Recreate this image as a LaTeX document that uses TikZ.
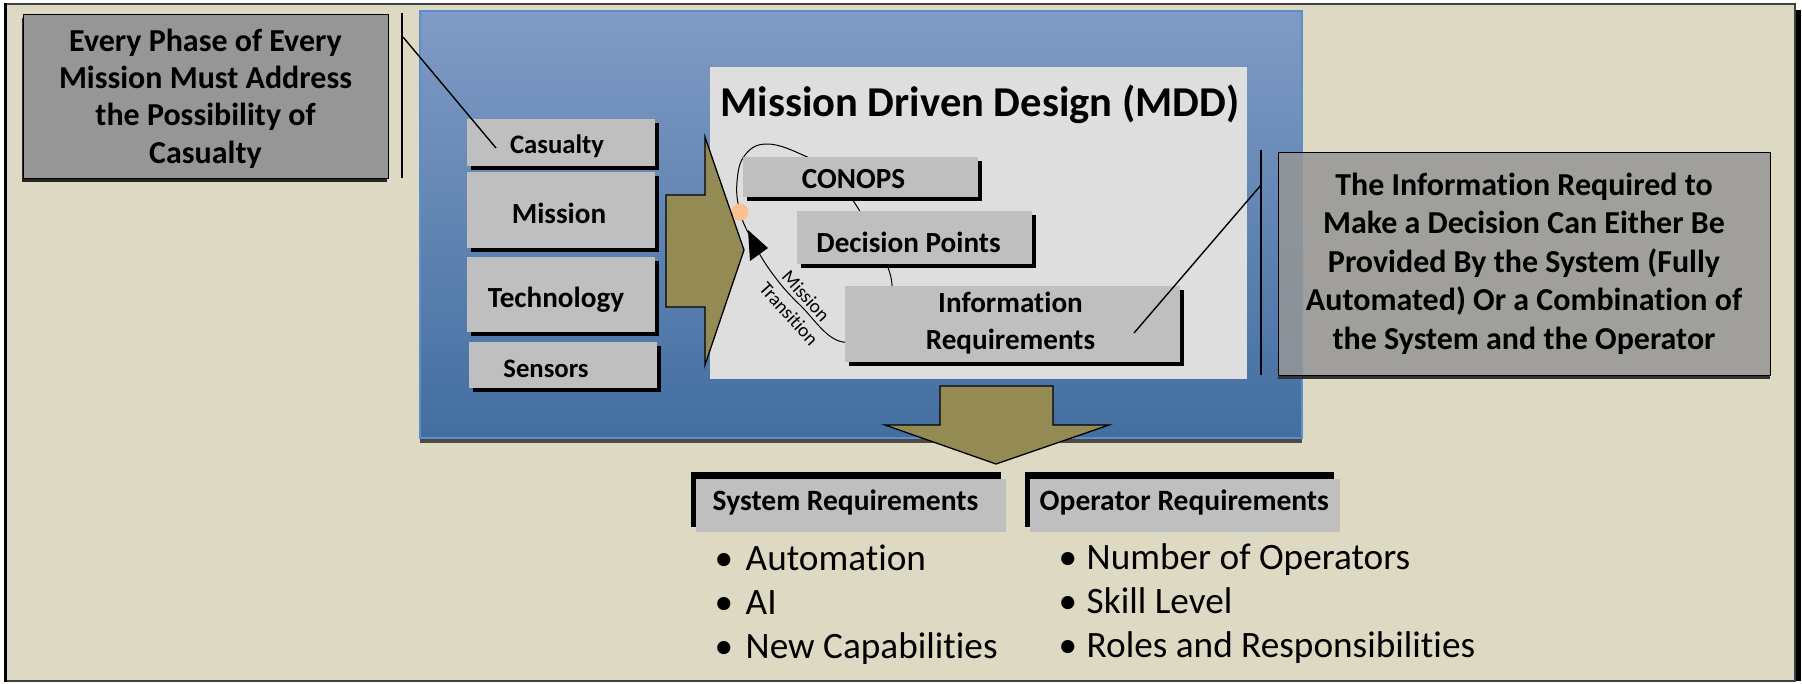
\documentclass[tikz,border=0pt]{standalone}
\usepackage{fontspec}
\setmainfont{Carlito}[Ligatures={NoCommon}]
\usetikzlibrary{shadows}
\definecolor{bg}{RGB}{221,217,195}
\definecolor{bluetop}{RGB}{128,155,197}
\definecolor{bluebot}{RGB}{66,110,160}
\definecolor{blueedge}{RGB}{95,140,205}
\definecolor{panel}{RGB}{222,222,222}
\definecolor{boxgray}{RGB}{191,191,191}
\definecolor{callgray}{RGB}{150,150,150}
\definecolor{olive}{RGB}{148,138,84}
\definecolor{dotc}{RGB}{250,192,144}
\definecolor{bshadow}{RGB}{77,75,64}
\begin{document}
\begin{tikzpicture}[x=0.1mm,y=-0.1mm,line join=miter,
  lbox/.style={fill=boxgray, inner sep=0pt,
    drop shadow={shadow xshift=0.4mm, shadow yshift=-0.4mm, fill=black, opacity=1}},
  ltext/.style={inner sep=0pt, font=\fontsize{8.3}{10.3}\selectfont\bfseries, align=center},
  stext/.style={inner sep=0pt, font=\fontsize{7.6}{9}\selectfont\bfseries},
  callout/.style={fill=callgray, draw=black, line width=0.1mm, align=center, inner sep=0pt,
    font=\fontsize{9.1}{10.6}\selectfont\bfseries},
  thinline/.style={line width=0.14mm, black},
  olivearrow/.style={fill=olive, draw=black, line width=0.13mm},
  hdrbox/.style={fill=boxgray, inner sep=0pt},
  hdrtext/.style={font=\fontsize{8.4}{10}\selectfont\bfseries, anchor=west, inner sep=0pt},
  bullettext/.style={font=\fontsize{10.6}{12}\selectfont, anchor=base west, inner sep=0pt},
  bulletdot/.style={font=\fontsize{10.6}{12}\selectfont, anchor=base, inner sep=0pt},
  mtlabel/.style={rotate=-48, font=\fontsize{5.5}{6.4}\selectfont, inner sep=0pt}
]
\useasboundingbox (0,0) rectangle (1802,683);
% outer frame
\fill[black] (1790,10) rectangle (1801,681);
\node[fill=bg, draw=black!75, line width=0.12mm, inner sep=0pt, minimum width=178.9mm, minimum height=67.7mm] (frame) at (900.5,342.5) {};
\draw[black, line width=0.22mm] (frame.north west) -- (frame.south west);

% left callout
\node[callout, minimum width=36.5mm, minimum height=16.4mm,
  drop shadow={shadow xshift=-0.1mm, shadow yshift=-0.35mm, fill=black!85, opacity=1}]
  (lc) at (205.5,96) {};
\node[callout, fill=none, draw=none] (lctxt) at ([shift={(0,2.5)}]lc.center) {Every Phase of Every\\Mission Must Address\\the Possibility of\\Casualty};
\coordinate (lvt) at (402,13);
\coordinate (lvb) at (402,178);
\draw[thinline] (lvt) -- (lvb);

% blue box
\fill[bshadow] (420,16) rectangle (1302,443);
\node[top color=bluetop, bottom color=bluebot, draw=blueedge, line width=0.15mm, inner sep=0pt,
  minimum width=88.2mm, minimum height=42.7mm] (blue) at (861,224.5) {};

% MDD panel
\node[fill=panel, inner sep=0pt, minimum width=53.7mm, minimum height=31.2mm] (mdd) at (978.5,223) {};
\node[font=\fontsize{12.1}{14}\selectfont\bfseries, inner sep=0pt] (title) at (980,104) {Mission Driven Design (MDD)};

% transition loop (partly hidden by the boxes)
\draw[line width=0.1mm] plot[smooth cycle, tension=0.7] coordinates
  {(740,212) (752,240) (772,273) (800,305) (843,342) (885,318) (892,285) (880,250)
   (856,205) (830,172) (805,156) (768,144) (745,155) (737,182)};

% MDD boxes
\node[lbox, minimum width=23.5mm, minimum height=4.0mm] (conops) at (860.5,177) {};
\node[ltext] (conopstxt) at ([shift={(-7,2)}]conops.center) {CONOPS};
\node[lbox, minimum width=23.5mm, minimum height=5.3mm] (dec) at (914.5,237.5) {};
\node[ltext] (dectxt) at ([shift={(-6,5)}]dec.center) {Decision Points};
\node[lbox, minimum width=33.5mm, minimum height=7.6mm] (info) at (1012.5,324) {};
\node[ltext] (infotxt) at ([shift={(-2,-1)}]info.center) {Information\\Requirements};

% arrowhead, dot, label
\fill[black] (748,230) -- (750,261) -- (768,248) -- cycle;
\node[circle, fill=dotc, minimum size=1.7mm, inner sep=0pt] (dot) at (740,212) {};
\node[mtlabel] (mt1) at (806,296) {Mission};
\node[mtlabel] (mt2) at (789,314) {Transition};

% left stacked boxes
\node[lbox, minimum width=18.8mm, minimum height=4.7mm] (cas) at (561,142.5) {};
\node[stext] (castxt) at ([shift={(-4,3.5)}]cas.center) {Casualty};
\node[lbox, minimum width=18.8mm, minimum height=7.6mm] (mis) at (561,210) {};
\node[ltext] (mistxt) at ([shift={(-2,3.5)}]mis.center) {Mission};
\node[lbox, minimum width=18.8mm, minimum height=7.5mm] (tech) at (561,294.5) {};
\node[ltext] (techtxt) at ([shift={(-5,5)}]tech.center) {Technology};
\node[lbox, minimum width=18.8mm, minimum height=4.6mm] (sen) at (563,365) {};
\node[stext] (sentxt) at ([shift={(-17,3.5)}]sen.center) {Sensors};

% casualty callout connector
\coordinate (lcj) at (403,37);
\coordinate (casend) at (496,148);
\draw[thinline] (lcj) -- (casend);

% right olive arrow
\draw[olivearrow] (666,195) -- (705,195) -- (705,137) -- (744,250) -- (705,365) -- (705,307) -- (666,307) -- cycle;

% right callout
\coordinate (rvt) at (1261,150);
\coordinate (rvb) at (1261,375);
\draw[thinline] (rvt) -- (rvb);
\coordinate (infoend) at (1134,333);
\coordinate (rvj) at (1261,185);
\draw[thinline] (infoend) -- (rvj);
\fill[black!80] (1278,375) rectangle (1770,379);
\node[callout, fill opacity=0.85, text opacity=1, minimum width=49.2mm, minimum height=22.3mm,
  font=\fontsize{9.1}{10.95}\selectfont\bfseries]
  (rc) at (1524,263.5) {The Information Required to\\Make a Decision Can Either Be\\Provided By the System (Fully\\Automated) Or a Combination of\\the System and the Operator};

% down olive arrow
\draw[olivearrow] (940,386) -- (1053,386) -- (1053,425) -- (1109,425) -- (996,464) -- (885,425) -- (940,425) -- cycle;

% requirement headers
\fill[black] (691,472) rectangle (1001,527);
\node[hdrbox, minimum width=31mm, minimum height=5.3mm] (sysbox) at (851,505.5) {};
\node[hdrtext] (systxt) at (712,502) {System Requirements};
\fill[black] (1025,472) rectangle (1334,527);
\node[hdrbox, minimum width=31mm, minimum height=5.3mm] (opbox) at (1185,505.5) {};
\node[hdrtext] (optxt) at (1039,502) {Operator Requirements};

% bullets
\node[bulletdot] (b1) at (724,570) {•};
\node[bullettext] (t1) at (745,570) {Automation};
\node[bulletdot] (b2) at (724,614) {•};
\node[bullettext] (t2) at (745,614) {AI};
\node[bulletdot] (b3) at (724,658) {•};
\node[bullettext] (t3) at (745,658) {New Capabilities};
\node[bulletdot] (b4) at (1068,569) {•};
\node[bullettext] (t4) at (1086,569) {Number of Operators};
\node[bulletdot] (b5) at (1068,613) {•};
\node[bullettext] (t5) at (1086,613) {Skill Level};
\node[bulletdot] (b6) at (1068,657) {•};
\node[bullettext] (t6) at (1086,657) {Roles and Responsibilities};
\end{tikzpicture}
\end{document}
